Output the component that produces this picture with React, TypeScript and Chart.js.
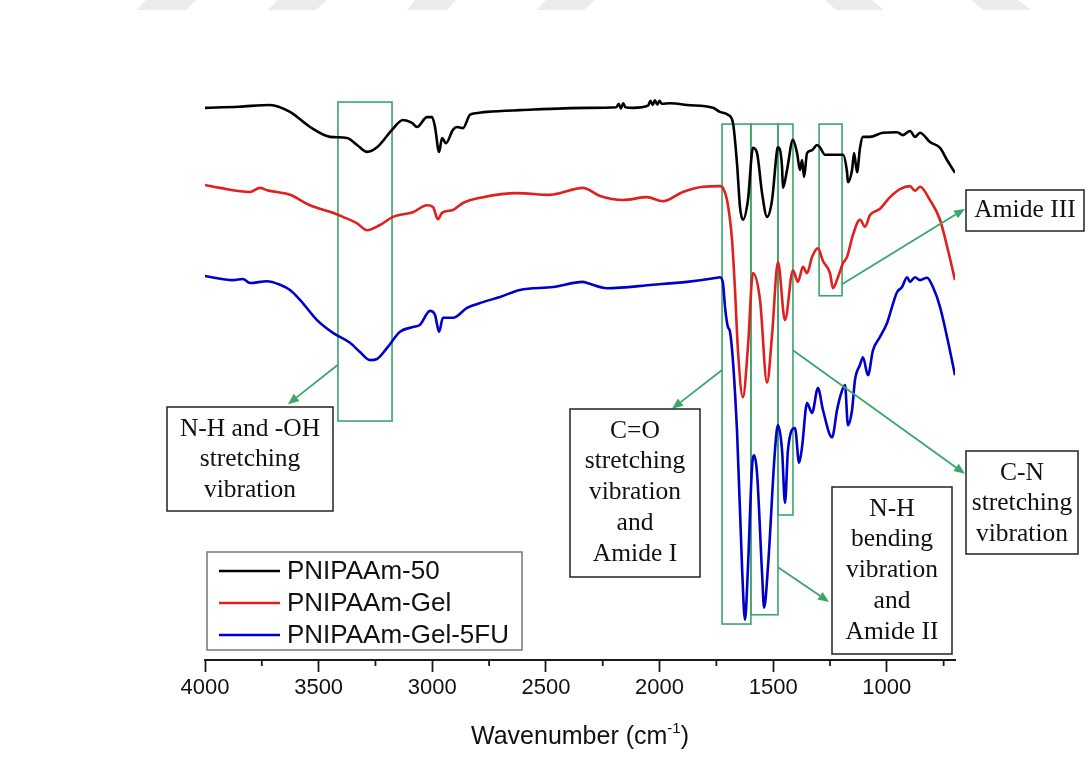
import React, { useEffect, useRef } from "react";
import { Chart, registerables } from "chart.js";

Chart.register(...registerables);

// ---------------- data ----------------
const seriesLabels = ["PNIPAAm-50", "PNIPAAm-Gel", "PNIPAAm-Gel-5FU"];
const seriesColors = ["#000000", "#e0201e", "#0000c8"];

// wavenumber (cm-1) and transmittance (a.u.)
const wn50 = [4000, 3850, 3714, 3626, 3538, 3450, 3375, 3331, 3287, 3243, 3177, 3129, 3089, 3067, 3023, 3001, 2988, 2970, 2957, 2940, 2909, 2891, 2865, 2834, 2803, 2759, 2614, 2319, 2190, 2180, 2170, 2160, 2150, 2117, 2050, 2040, 2030, 2020, 2010, 2000, 1990, 1954, 1879, 1765, 1734, 1699, 1677, 1659, 1646, 1633, 1611, 1589, 1571, 1549, 1527, 1505, 1483, 1479, 1461, 1457, 1439, 1413, 1395, 1382, 1373, 1364, 1351, 1329, 1307, 1294, 1272, 1237, 1193, 1175, 1171, 1153, 1144, 1131, 1118, 1105, 1074, 1017, 955, 929, 898, 876, 854, 810, 766, 735, 700];
const t50 = [95.2, 95.4, 95.7, 94.5, 91.9, 90.2, 90.0, 88.8, 87.6, 88.4, 91.4, 93.1, 92.6, 91.9, 93.6, 93.6, 91.9, 87.6, 90.0, 89.1, 91.4, 91.9, 91.7, 94.0, 94.3, 94.5, 94.8, 95.2, 95.3, 95.9, 95.1, 96.0, 95.3, 95.2, 95.6, 96.4, 95.7, 96.5, 95.8, 96.4, 95.9, 96.0, 95.7, 95.2, 94.5, 94.0, 92.6, 85.5, 78.1, 75.9, 79.3, 88.3, 87.4, 80.5, 76.4, 79.3, 87.9, 88.4, 85.0, 81.4, 84.5, 89.7, 87.4, 84.5, 86.2, 83.3, 87.4, 87.9, 88.8, 88.4, 87.1, 87.1, 87.1, 84.1, 82.4, 84.5, 87.4, 84.1, 88.3, 90.2, 90.2, 90.9, 91.0, 90.5, 91.2, 90.2, 90.9, 89.3, 88.3, 86.2, 84.0];

const wnGel = [4000, 3934, 3802, 3758, 3727, 3626, 3538, 3437, 3393, 3331, 3287, 3230, 3173, 3085, 3023, 2997, 2975, 2957, 2909, 2865, 2777, 2627, 2482, 2337, 2262, 2161, 2055, 1985, 1897, 1809, 1734, 1721, 1703, 1681, 1668, 1655, 1633, 1611, 1589, 1558, 1527, 1505, 1479, 1448, 1413, 1391, 1369, 1351, 1329, 1303, 1281, 1250, 1237, 1215, 1193, 1175, 1149, 1118, 1096, 1074, 1030, 986, 942, 898, 876, 854, 810, 766, 731, 700];
const tGel = [81.9, 81.4, 80.7, 81.4, 81.0, 80.2, 78.4, 77.1, 76.4, 75.3, 74.1, 75.0, 76.4, 77.2, 78.4, 78.1, 76.0, 77.1, 77.6, 78.8, 79.8, 80.5, 80.2, 81.4, 80.0, 79.3, 79.8, 79.1, 80.7, 81.6, 81.7, 81.4, 79.3, 72.4, 63.8, 53.4, 45.3, 54.0, 66.7, 62.1, 47.8, 56.0, 68.6, 58.6, 67.2, 65.2, 67.8, 66.7, 69.5, 71.0, 68.8, 66.7, 64.1, 66.0, 68.4, 69.5, 73.3, 75.9, 74.7, 76.7, 77.8, 79.8, 81.2, 81.7, 80.9, 81.6, 79.3, 75.9, 70.7, 65.5];

const wn5FU = [4000, 3877, 3833, 3802, 3727, 3670, 3626, 3582, 3507, 3437, 3362, 3318, 3274, 3243, 3199, 3142, 3085, 3054, 3010, 2988, 2970, 2953, 2909, 2847, 2777, 2702, 2614, 2469, 2337, 2319, 2231, 2029, 1879, 1747, 1734, 1721, 1712, 1699, 1690, 1659, 1637, 1624, 1611, 1593, 1584, 1571, 1549, 1540, 1523, 1492, 1479, 1461, 1448, 1435, 1404, 1386, 1373, 1351, 1329, 1303, 1281, 1241, 1219, 1206, 1184, 1171, 1153, 1140, 1118, 1105, 1083, 1061, 1030, 999, 977, 955, 933, 911, 898, 876, 854, 823, 797, 766, 735, 700];
const t5FU = [66.2, 65.5, 65.7, 65.0, 65.3, 64.7, 63.8, 62.1, 58.6, 56.4, 54.7, 53.1, 51.7, 51.9, 53.8, 56.6, 57.4, 57.8, 60.2, 59.5, 56.6, 59.0, 59.0, 60.7, 61.7, 62.6, 63.8, 64.3, 65.2, 65.0, 64.1, 64.7, 65.2, 65.9, 66.0, 65.0, 60.9, 57.4, 56.6, 39.4, 16.0, 6.9, 16.0, 33.3, 35.3, 32.2, 15.0, 9.0, 16.0, 36.2, 40.5, 36.2, 27.1, 36.2, 40.0, 34.0, 36.7, 44.3, 42.6, 46.9, 43.1, 38.4, 43.1, 45.3, 47.4, 40.5, 43.1, 48.3, 50.9, 52.2, 49.1, 53.4, 55.7, 58.1, 60.9, 63.4, 64.3, 66.0, 65.2, 66.0, 65.5, 65.9, 64.3, 60.9, 55.7, 49.1];

const majorTicks = [4000, 3500, 3000, 2500, 2000, 1500, 1000];
const minorTicks = [3750, 3250, 2750, 2250, 1750, 1250, 750];

// highlighted band rectangles: [wavenumber left, wavenumber right, T top, T bottom]
const bandRects = [
  [3415, 3177, 96.2, 41.2],
  [1725, 1598, 92.4, 6.2],
  [1598, 1479, 92.4, 7.8],
  [1479, 1413, 92.4, 25.0],
  [1298, 1197, 92.4, 62.8],
];
// arrows: [from wn, from T, to wn, to T]
const arrowLines = [
  [3415, 50.9, 3635, 44.1],
  [1725, 50.0, 1945, 43.3],
  [1479, 16.0, 1254, 10.0],
  [1413, 53.4, 656, 32.1],
  [1197, 64.8, 656, 77.8],
];
const noteTexts = [
  ["N-H and -OH", "stretching", "vibration"],
  ["C=O", "stretching", "vibration", "and", "Amide I"],
  ["N-H", "bending", "vibration", "and", "Amide II"],
  ["C-N", "stretching", "vibration"],
  ["Amide III"],
];

// ---------------- layout / styles ----------------
const noteBoxes = [
  { x: 167, y: 407, w: 166, h: 104 },
  { x: 570, y: 409, w: 130, h: 168 },
  { x: 832, y: 487, w: 120, h: 167 },
  { x: 966, y: 451, w: 112, h: 103 },
  { x: 966, y: 190, w: 118, h: 41 },
];
// faint page watermark marks along the top edge: [top-left x, top-right x, bottom-left x, bottom-right x]
const watermarkMarks = [
  [146, 197, 136, 186],
  [278, 327, 268, 316],
  [415, 456, 407, 447],
  [546, 595, 536, 584],
  [825, 872, 836, 884],
  [971, 1018, 983, 1031],
];
const GREEN = "#3aa66a";
const AXIS = "#1a1a1a";
const SANS = "'Liberation Sans', Arial, sans-serif";
const SERIF = "'Liberation Serif', 'Times New Roman', serif";

function drawArrow(ctx: CanvasRenderingContext2D, x1: number, y1: number, x2: number, y2: number) {
  const ang = Math.atan2(y2 - y1, x2 - x1);
  const len = 11;
  const half = 4.5;
  const bx = x2 - Math.cos(ang) * len;
  const by = y2 - Math.sin(ang) * len;
  ctx.beginPath();
  ctx.moveTo(x1, y1);
  ctx.lineTo(bx, by);
  ctx.stroke();
  ctx.beginPath();
  ctx.moveTo(x2, y2);
  ctx.lineTo(bx + Math.sin(ang) * half, by - Math.cos(ang) * half);
  ctx.lineTo(bx - Math.sin(ang) * half, by + Math.cos(ang) * half);
  ctx.closePath();
  ctx.fill();
}

const overlayPlugin = {
  id: "ftirOverlay",
  beforeDraw(chart: any) {
    const ctx: CanvasRenderingContext2D = chart.ctx;
    ctx.save();
    ctx.fillStyle = "#ececec";
    watermarkMarks.forEach(([a, b, c, d]) => {
      ctx.beginPath();
      ctx.moveTo(a, 0);
      ctx.lineTo(b, 0);
      ctx.lineTo(d, 10);
      ctx.lineTo(c, 10);
      ctx.closePath();
      ctx.fill();
    });
    ctx.restore();
  },
  beforeDatasetsDraw(chart: any) {
    const ctx: CanvasRenderingContext2D = chart.ctx;
    const xs = chart.scales.x;
    const ys = chart.scales.y;
    ctx.save();
    ctx.strokeStyle = GREEN;
    ctx.lineWidth = 1.6;
    bandRects.forEach(([w1, w2, tt, tb]) => {
      const x1 = xs.getPixelForValue(w1);
      const x2 = xs.getPixelForValue(w2);
      const y1 = ys.getPixelForValue(tt);
      const y2 = ys.getPixelForValue(tb);
      ctx.strokeRect(x1, y1, x2 - x1, y2 - y1);
    });
    ctx.restore();
  },
  afterDraw(chart: any) {
    const ctx: CanvasRenderingContext2D = chart.ctx;
    const xs = chart.scales.x;
    const ys = chart.scales.y;
    const area = chart.chartArea;
    ctx.save();

    // minor ticks
    ctx.strokeStyle = AXIS;
    ctx.lineWidth = 1.8;
    minorTicks.forEach((v) => {
      const x = xs.getPixelForValue(v);
      ctx.beginPath();
      ctx.moveTo(x, area.bottom);
      ctx.lineTo(x, area.bottom + 6);
      ctx.stroke();
    });

    // axis title with superscript
    ctx.fillStyle = "#111";
    ctx.textBaseline = "alphabetic";
    ctx.textAlign = "left";
    const mainFont = `25px ${SANS}`;
    const supFont = `15px ${SANS}`;
    const p1 = "Wavenumber (cm";
    const sup = "-1";
    const p2 = ")";
    ctx.font = mainFont;
    const w1 = ctx.measureText(p1).width;
    const w3 = ctx.measureText(p2).width;
    ctx.font = supFont;
    const w2 = ctx.measureText(sup).width;
    const total = w1 + w2 + w3;
    const cx = (area.left + area.right) / 2;
    let tx = cx - total / 2;
    const baseY = 744;
    ctx.font = mainFont;
    ctx.fillText(p1, tx, baseY);
    tx += w1;
    ctx.font = supFont;
    ctx.fillText(sup, tx, baseY - 11);
    tx += w2;
    ctx.font = mainFont;
    ctx.fillText(p2, tx, baseY);

    // arrows
    ctx.strokeStyle = GREEN;
    ctx.fillStyle = GREEN;
    ctx.lineWidth = 1.8;
    arrowLines.forEach(([fw, ft, tw, tt]) => {
      drawArrow(ctx, xs.getPixelForValue(fw), ys.getPixelForValue(ft), xs.getPixelForValue(tw), ys.getPixelForValue(tt));
    });

    // note boxes
    noteBoxes.forEach((b, i) => {
      ctx.fillStyle = "#ffffff";
      ctx.fillRect(b.x, b.y, b.w, b.h);
      ctx.strokeStyle = "#222";
      ctx.lineWidth = 1.5;
      ctx.strokeRect(b.x, b.y, b.w, b.h);
      ctx.fillStyle = "#111";
      ctx.font = `25.5px ${SERIF}`;
      ctx.textAlign = "center";
      ctx.textBaseline = "middle";
      const lines = noteTexts[i];
      const lh = 30.7;
      const top = lines.length === 1 ? b.y + b.h / 2 : b.y + 22;
      lines.forEach((ln, j) => ctx.fillText(ln, b.x + b.w / 2, top + j * lh));
    });

    // legend
    const lg = { x: 207, y: 552, w: 315, h: 98 };
    ctx.fillStyle = "#ffffff";
    ctx.fillRect(lg.x, lg.y, lg.w, lg.h);
    ctx.strokeStyle = "#777";
    ctx.lineWidth = 1.5;
    ctx.strokeRect(lg.x, lg.y, lg.w, lg.h);
    ctx.font = `26px ${SANS}`;
    ctx.textAlign = "left";
    ctx.textBaseline = "middle";
    chart.data.datasets.forEach((ds: any, i: number) => {
      const y = lg.y + 19 + i * 32;
      ctx.strokeStyle = ds.borderColor;
      ctx.lineWidth = 2.6;
      ctx.beginPath();
      ctx.moveTo(lg.x + 12, y);
      ctx.lineTo(lg.x + 73, y);
      ctx.stroke();
      ctx.fillStyle = "#111";
      ctx.fillText(ds.label, lg.x + 80, y + 1);
    });

    ctx.restore();
  },
};

export default function App() {
  const canvasRef = useRef<HTMLCanvasElement | null>(null);

  useEffect(() => {
    if (!canvasRef.current) return;
    const series = [
      [wn50, t50],
      [wnGel, tGel],
      [wn5FU, t5FU],
    ];
    const chart = new Chart(canvasRef.current, {
      type: "line",
      data: {
        datasets: series.map(([wn, t], i) => ({
          label: seriesLabels[i],
          data: wn.map((w, k) => ({ x: w, y: t[k] })),
          borderColor: seriesColors[i],
          backgroundColor: seriesColors[i],
          borderWidth: 2.6,
          pointRadius: 0,
          cubicInterpolationMode: "monotone",
          fill: false,
        })),
      },
      options: {
        responsive: false,
        animation: false,
        layout: { padding: { left: 205, right: 137, top: 80, bottom: 0 } },
        plugins: { legend: { display: false }, tooltip: { enabled: false }, title: { display: false } },
        scales: {
          x: {
            type: "linear",
            reverse: true,
            min: 700,
            max: 4000,
            afterBuildTicks: (scale: any) => {
              scale.ticks = majorTicks.map((v) => ({ value: v }));
            },
            afterFit: (scale: any) => {
              scale.height = 118;
            },
            ticks: {
              autoSkip: false,
              maxRotation: 0,
              padding: 3,
              color: "#111",
              font: { family: SANS, size: 22 },
              callback: (v: any) => String(v),
            },
            grid: {
              display: true,
              drawOnChartArea: false,
              drawTicks: true,
              tickLength: 12,
              tickWidth: 1.8,
              tickColor: AXIS,
            },
            border: { display: true, color: AXIS, width: 2 },
          },
          y: {
            display: false,
            min: 0,
            max: 100,
          },
        },
      },
      plugins: [overlayPlugin],
    });
    return () => chart.destroy();
  }, []);

  return (
    <div style={{ position: "absolute", left: 0, top: 0, width: 1092, height: 778, background: "#fff" }}>
      <canvas ref={canvasRef} width={1092} height={778} style={{ display: "block" }} />
    </div>
  );
}
